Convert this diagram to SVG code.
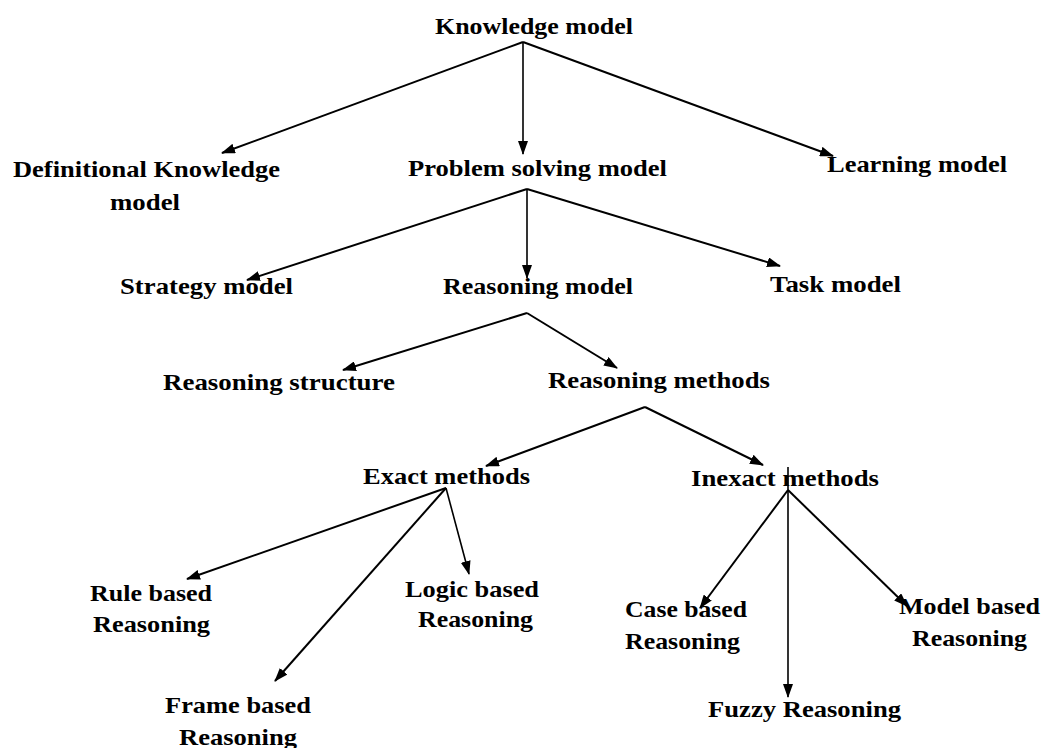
<svg xmlns="http://www.w3.org/2000/svg" width="1041" height="748" viewBox="0 0 1041 748">
<style>
text{font-family:"Liberation Serif","Times New Roman",serif;font-weight:bold;font-size:23px;fill:#000}
.c line{stroke:#000;stroke-width:2;marker-end:url(#ah)}
.c line.v{stroke-width:1.6}
</style>
<defs>
<marker id="ah" markerUnits="userSpaceOnUse" viewBox="0 0 14 10" refX="13" refY="5" markerWidth="14" markerHeight="10" orient="auto">
<path d="M0,0 L14,5 L0,10 Z" fill="#000"/>
</marker>
</defs>
<rect width="1041" height="748" fill="#fff"/>
<g class="c" id="connectors">
<line x1="523" y1="42" x2="222" y2="153"/>
<line class="v" x1="523" y1="42" x2="523" y2="154"/>
<line x1="523" y1="42" x2="833" y2="156"/>
<line x1="527" y1="189" x2="247" y2="280"/>
<line class="v" x1="527" y1="189" x2="527" y2="278"/>
<line x1="527" y1="189" x2="780" y2="266"/>
<line x1="527" y1="313" x2="343" y2="370"/>
<line x1="527" y1="313" x2="617" y2="368"/>
<line x1="645" y1="407" x2="486" y2="466"/>
<line x1="645" y1="407" x2="763" y2="465"/>
<line x1="446" y1="488" x2="187" y2="579"/>
<line x1="446" y1="488" x2="275" y2="681"/>
<line class="v" x1="446" y1="488" x2="469" y2="574"/>
<line class="v" x1="788" y1="467" x2="788" y2="697"/>
<line x1="788" y1="490" x2="700" y2="608"/>
<line x1="788" y1="490" x2="907" y2="606"/>
</g>
<g id="n-knowledge"><text x="435" y="34" textLength="198" lengthAdjust="spacingAndGlyphs">Knowledge model</text></g>
<g id="n-definitional"><text x="13" y="177" textLength="267" lengthAdjust="spacingAndGlyphs">Definitional Knowledge</text><text x="110" y="210" textLength="70" lengthAdjust="spacingAndGlyphs">model</text></g>
<g id="n-problem"><text x="408" y="176" textLength="259" lengthAdjust="spacingAndGlyphs">Problem solving model</text></g>
<g id="n-learning"><text x="827" y="172" textLength="180" lengthAdjust="spacingAndGlyphs">Learning model</text></g>
<g id="n-strategy"><text x="120" y="294" textLength="173" lengthAdjust="spacingAndGlyphs">Strategy model</text></g>
<g id="n-reasoning"><text x="443" y="294" textLength="190" lengthAdjust="spacingAndGlyphs">Reasoning model</text></g>
<g id="n-task"><text x="770" y="292" textLength="131" lengthAdjust="spacingAndGlyphs">Task model</text></g>
<g id="n-rstructure"><text x="163" y="390" textLength="232" lengthAdjust="spacingAndGlyphs">Reasoning structure</text></g>
<g id="n-rmethods"><text x="548" y="388" textLength="222" lengthAdjust="spacingAndGlyphs">Reasoning methods</text></g>
<g id="n-exact"><text x="363" y="484" textLength="167" lengthAdjust="spacingAndGlyphs">Exact methods</text></g>
<g id="n-inexact"><text x="691" y="486" textLength="188" lengthAdjust="spacingAndGlyphs">Inexact methods</text></g>
<g id="n-rule"><text x="90" y="601" textLength="122" lengthAdjust="spacingAndGlyphs">Rule based</text><text x="93" y="632" textLength="117" lengthAdjust="spacingAndGlyphs">Reasoning</text></g>
<g id="n-logic"><text x="405" y="597" textLength="134" lengthAdjust="spacingAndGlyphs">Logic based</text><text x="418" y="627" textLength="115" lengthAdjust="spacingAndGlyphs">Reasoning</text></g>
<g id="n-frame"><text x="165" y="713" textLength="146" lengthAdjust="spacingAndGlyphs">Frame based</text><text x="179" y="745" textLength="118" lengthAdjust="spacingAndGlyphs">Reasoning</text></g>
<g id="n-case"><text x="625" y="617" textLength="122" lengthAdjust="spacingAndGlyphs">Case based</text><text x="625" y="649" textLength="115" lengthAdjust="spacingAndGlyphs">Reasoning</text></g>
<g id="n-fuzzy"><text x="708" y="717" textLength="193" lengthAdjust="spacingAndGlyphs">Fuzzy Reasoning</text></g>
<g id="n-modelbased"><text x="899" y="614" textLength="141" lengthAdjust="spacingAndGlyphs">Model based</text><text x="912" y="646" textLength="115" lengthAdjust="spacingAndGlyphs">Reasoning</text></g>
</svg>
